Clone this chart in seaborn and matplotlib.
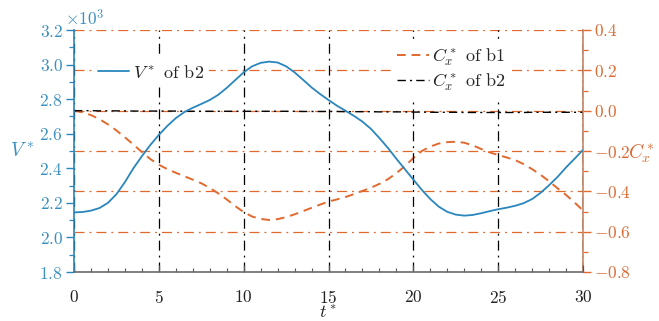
import matplotlib
matplotlib.use("Agg")
import matplotlib.pyplot as plt
import seaborn as sns
import pandas as pd
from matplotlib.ticker import ScalarFormatter, MultipleLocator
from matplotlib.lines import Line2D

# ---- data ----
t = [0, 0.5, 1, 1.5, 2, 2.5, 3, 3.5, 4, 4.5, 5, 5.5, 6, 6.5, 7, 7.5, 8, 8.5, 9, 9.5,
     10, 10.5, 11, 11.5, 12, 12.5, 13, 13.5, 14, 14.5, 15, 15.5, 16, 16.5, 17, 17.5,
     18, 18.5, 19, 19.5, 20, 20.5, 21, 21.5, 22, 22.5, 23, 23.5, 24, 24.5, 25, 25.5,
     26, 26.5, 27, 27.5, 28, 28.5, 29, 29.5, 30]
v_b2 = [2145, 2147, 2155, 2170, 2200, 2250, 2320, 2400, 2470, 2535, 2593, 2645, 2690,
        2725, 2750, 2772, 2795, 2825, 2865, 2910, 2955, 2990, 3010, 3017, 3012, 2990,
        2955, 2912, 2868, 2830, 2795, 2762, 2733, 2703, 2670, 2628, 2575, 2518, 2455,
        2395, 2335, 2275, 2222, 2178, 2148, 2132, 2126, 2130, 2140, 2152, 2163, 2172,
        2183, 2198, 2222, 2258, 2302, 2350, 2405, 2455, 2506]
cx_b1 = [0.0, -0.008, -0.022, -0.042, -0.068, -0.098, -0.132, -0.168, -0.205, -0.24,
         -0.268, -0.29, -0.308, -0.325, -0.342, -0.36, -0.383, -0.41, -0.44, -0.473,
         -0.503, -0.525, -0.537, -0.542, -0.538, -0.528, -0.514, -0.498, -0.482, -0.466,
         -0.451, -0.44, -0.428, -0.414, -0.398, -0.382, -0.363, -0.34, -0.31, -0.275,
         -0.235, -0.2, -0.178, -0.163, -0.156, -0.154, -0.159, -0.172, -0.19, -0.207,
         -0.22, -0.232, -0.245, -0.265, -0.29, -0.318, -0.35, -0.385, -0.418, -0.455,
         -0.495]
cx_b2 = [0.0, 0.0, 0.0, -0.001, -0.001, -0.001, -0.001, -0.002, -0.002, -0.002,
         -0.002, -0.002, -0.002, -0.003, -0.003, -0.003, -0.003, -0.003, -0.003, -0.003,
         -0.003, -0.003, -0.003, -0.003, -0.003, -0.003, -0.003, -0.004, -0.004, -0.004,
         -0.004, -0.004, -0.005, -0.005, -0.005, -0.005, -0.006, -0.006, -0.006, -0.006,
         -0.007, -0.007, -0.008, -0.008, -0.008, -0.008, -0.009, -0.009, -0.009, -0.009,
         -0.009, -0.009, -0.009, -0.009, -0.008, -0.008, -0.008, -0.008, -0.008, -0.008,
         -0.008]

x_ticks = [0, 5, 10, 15, 20, 25, 30]
left_ticks = [1800, 2000, 2200, 2400, 2600, 2800, 3000, 3200]
right_ticks = [-0.8, -0.6, -0.4, -0.2, 0.0, 0.2, 0.4]

df = pd.DataFrame({"t": t, "V": v_b2, "C1": cx_b1, "C2": cx_b2})

BLUE = "#2a86bd"
ORANGE = "#e2692e"
BLUE_TXT = "#3a8fc0"
ORANGE_TXT = "#dc6a34"

sns.set_theme(style="ticks")
plt.rcParams["font.family"] = ["cmr10", "DejaVu Serif"]
plt.rcParams["mathtext.fontset"] = "cm"
plt.rcParams["axes.formatter.use_mathtext"] = True
plt.rcParams["axes.unicode_minus"] = True

fig = plt.figure(figsize=(6.59, 3.21), dpi=100)
ax = fig.add_axes([74 / 659, 1 - 272 / 321, 509 / 659, 242 / 321])
ax2 = ax.twinx()
ax.set_zorder(ax2.get_zorder() + 1)
ax.patch.set_visible(False)

# right axis (below): C_x lines + horizontal grid
sns.lineplot(data=df, x="t", y="C1", ax=ax2, color=ORANGE, lw=1.4,
             linestyle=(0, (4.5, 3)), zorder=3)
sns.lineplot(data=df, x="t", y="C2", ax=ax2, color="black", lw=1.0,
             linestyle=(0, (6, 3, 1.5, 3)), zorder=3)
ax2.set_ylim(-0.8, 0.4)
ax2.set_yticks(right_ticks)
ax2.yaxis.set_minor_locator(MultipleLocator(0.1))
ax2.yaxis.grid(True, which="major", color=ORANGE, lw=0.9, linestyle=(0, (8, 4, 1.5, 4)))
ax2.xaxis.grid(False)
ax2.set_ylabel("")

# left axis (above): V line + vertical grid
sns.lineplot(data=df, x="t", y="V", ax=ax, color=BLUE, lw=1.3, zorder=4)
ax.set_xlim(0, 30)
ax.set_ylim(1800, 3200)
ax.set_xticks(x_ticks)
ax.xaxis.set_minor_locator(MultipleLocator(1))
ax.set_yticks(left_ticks)
ax.yaxis.set_minor_locator(MultipleLocator(100))
fmt = ScalarFormatter(useMathText=True)
fmt.set_powerlimits((0, 0))
ax.yaxis.set_major_formatter(fmt)
ax.xaxis.grid(True, which="major", color="black", lw=0.9, linestyle=(0, (8, 4, 1.5, 4)))
ax.yaxis.grid(False)

# spines
for a in (ax, ax2):
    for s in a.spines.values():
        s.set_visible(False)
ax.spines["bottom"].set_visible(True)
ax.spines["bottom"].set_color("#6b6b6b")
ax.spines["left"].set_visible(True)
ax.spines["left"].set_color(BLUE)
ax2.spines["right"].set_visible(True)
ax2.spines["right"].set_color("#c98462")
for a in (ax, ax2):
    for s in a.spines.values():
        s.set_linewidth(1.2)
        s.set_zorder(5)

# ticks
ax.tick_params(axis="x", which="major", direction="in", length=5, width=0.9,
               color="#555555", labelsize=12.5, pad=12, labelcolor="#222222",
               bottom=True, top=False)
ax.tick_params(axis="x", which="minor", direction="in", length=3, width=0.8,
               color="#555555", bottom=True, top=False)
ax.tick_params(axis="y", which="major", direction="out", length=6, width=1.0,
               color=BLUE, labelcolor=BLUE_TXT, labelsize=12.5, pad=2, left=True,
               right=False)
ax.tick_params(axis="y", which="minor", direction="out", length=3.5, width=0.9,
               color=BLUE, left=True, right=False)
ax2.tick_params(axis="y", which="major", direction="out", length=6, width=1.0,
                color=ORANGE, labelcolor=ORANGE_TXT, labelsize=12.5, pad=2, right=True,
                left=False)
ax2.tick_params(axis="y", which="minor", direction="out", length=3.5, width=0.9,
                color=ORANGE, right=True, left=False)
ax2.tick_params(axis="x", which="both", bottom=False, top=False, labelbottom=False)

ax.yaxis.offsetText.set_color(BLUE_TXT)
ax.yaxis.offsetText.set_fontsize(12.5)
ax.yaxis.offsetText.set_x(-0.018)

# labels
ax.set_xlabel("$t^*$", fontsize=13, labelpad=-1, color="#222222")
ax.set_ylabel("$V^*$", fontsize=14, color=BLUE_TXT, rotation=0, ha="center", va="center")
ax.yaxis.set_label_coords(-0.102, 0.5)
ax2.set_ylabel("$C_x^*$", fontsize=14, color=ORANGE_TXT, rotation=0, ha="left", va="center")
ax2.yaxis.set_label_coords(1.088, 0.49)

# legends
h1 = [Line2D([], [], color=BLUE, lw=1.3)]
leg1 = ax.legend(h1, ["$V^*$ of b2"], loc="center left", bbox_to_anchor=(0.036, 0.826),
                 frameon=True, fontsize=13, handlelength=1.75, handletextpad=0.2,
                 borderpad=0.3, borderaxespad=0, fancybox=False)
leg1.get_frame().set_facecolor("white")
leg1.get_frame().set_edgecolor("none")
leg1.get_frame().set_alpha(1)
ax.add_artist(leg1)

h2 = [Line2D([], [], color=ORANGE, lw=1.4, linestyle=(0, (4.5, 3))),
      Line2D([], [], color="black", lw=1.0, linestyle=(0, (6, 3, 1.5, 3)))]
leg2 = ax.legend(h2, ["$C_x^*$ of b1", "$C_x^*$ of b2"], loc="center left",
                 bbox_to_anchor=(0.624, 0.837), frameon=True, fontsize=13,
                 handlelength=1.75, handletextpad=0.2, borderpad=0.3, borderaxespad=0,
                 labelspacing=0.2, fancybox=False)
leg2.get_frame().set_facecolor("white")
leg2.get_frame().set_edgecolor("none")
leg2.get_frame().set_alpha(1)

fig.savefig("out.png", dpi=100)
